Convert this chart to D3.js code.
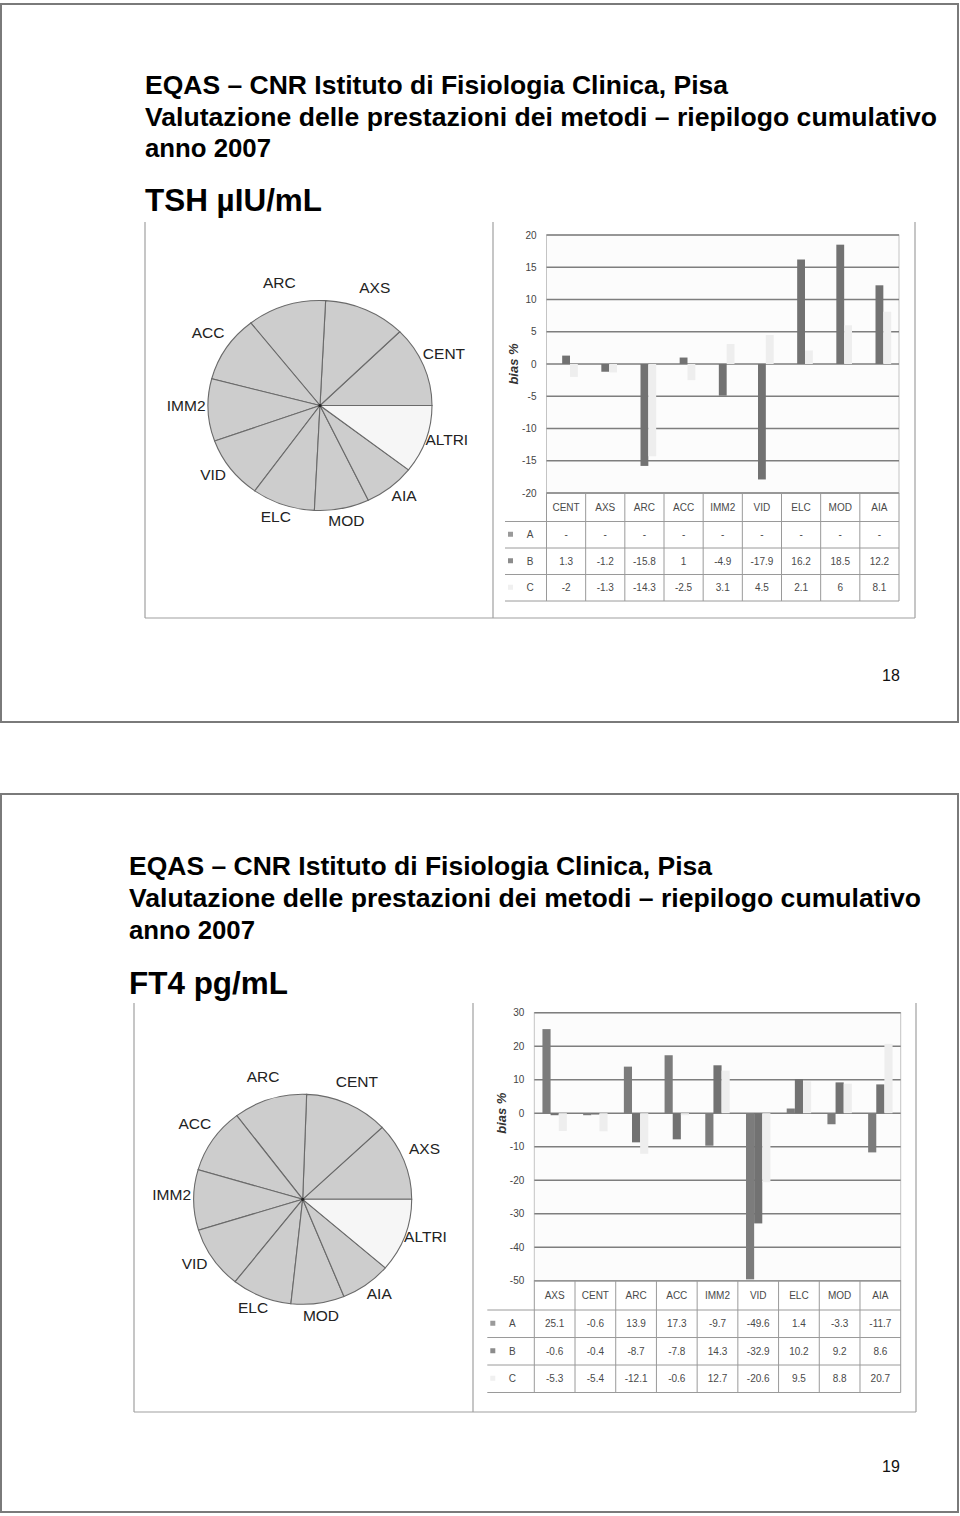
<!DOCTYPE html>
<html>
<head>
<meta charset="utf-8">
<script src="https://cdn.jsdelivr.net/npm/d3@7"></script>
<style>
  html, body { margin: 0; padding: 0; background: #fff; }
  svg { display: block; }
  text { font-family: "Liberation Sans", Arial, sans-serif; }
</style>
</head>
<body>
<svg id="page" width="960" height="1516"></svg>
<script>
// ---------------- DATA ----------------
const titleLine1 = "EQAS \u2013 CNR Istituto di Fisiologia Clinica, Pisa";
const titleLine2 = "Valutazione delle prestazioni dei metodi \u2013 riepilogo cumulativo";
const titleLine3 = "anno 2007";
const seriesNames = ["A", "B", "C"];

// Slide 18: TSH
const tshHeading = "TSH \u00b5IU/mL";
const tshPageNo = "18";
const tshPieLabels = ["CENT", "AXS", "ARC", "ACC", "IMM2", "VID", "ELC", "MOD", "AIA", "ALTRI"];
const tshPieShares = [12.4, 11.8, 11.4, 10.3, 9.6, 9.6, 9.1, 7.9, 7.4, 10.5];
const tshCats = ["CENT", "AXS", "ARC", "ACC", "IMM2", "VID", "ELC", "MOD", "AIA"];
const tshA = [null, null, null, null, null, null, null, null, null];
const tshB = [1.3, -1.2, -15.8, 1, -4.9, -17.9, 16.2, 18.5, 12.2];
const tshC = [-2, -1.3, -14.3, -2.5, 3.1, 4.5, 2.1, 6, 8.1];
const tshYDomain = [-20, 20];
const tshYTicks = [-20, -15, -10, -5, 0, 5, 10, 15, 20];

// Slide 19: FT4
const ft4Heading = "FT4 pg/mL";
const ft4PageNo = "19";
const ft4PieLabels = ["AXS", "CENT", "ARC", "ACC", "IMM2", "VID", "ELC", "MOD", "AIA", "ALTRI"];
const ft4PieShares = [12.0, 12.4, 10.9, 10.1, 9.3, 9.6, 8.9, 7.9, 7.5, 11.3];
const ft4Cats = ["AXS", "CENT", "ARC", "ACC", "IMM2", "VID", "ELC", "MOD", "AIA"];
const ft4A = [25.1, -0.6, 13.9, 17.3, -9.7, -49.6, 1.4, -3.3, -11.7];
const ft4B = [-0.6, -0.4, -8.7, -7.8, 14.3, -32.9, 10.2, 9.2, 8.6];
const ft4C = [-5.3, -5.4, -12.1, -0.6, 12.7, -20.6, 9.5, 8.8, 20.7];
const ft4YDomain = [-50, 30];
const ft4YTicks = [-50, -40, -30, -20, -10, 0, 10, 20, 30];

// ---------------- STYLE ----------------
const seriesColors = { A: "#7c7c7c", B: "#727272", C: "#eeeeee" };
const legendColors = { A: "#9a9a9a", B: "#8c8c8c", C: "#f0f0f0" };

const svg = d3.select("#page");

function fmt(v) {
  if (v === null || v === undefined) return "-";
  return String(v);
}

function drawSlide(cfg) {
  const g = svg.append("g");
  g.append("rect")
    .attr("x", cfg.frame.x).attr("y", cfg.frame.y)
    .attr("width", cfg.frame.w).attr("height", cfg.frame.h)
    .attr("fill", "#fff").attr("stroke", "#7a7a7a").attr("stroke-width", 2);

  const t = cfg.title;
  const lines = [
    { s: titleLine1, y: t.y1, len: 583, size: 26 },
    { s: titleLine2, y: t.y2, len: 792, size: 26 },
    { s: titleLine3, y: t.y3, len: 126, size: 26 },
    { s: cfg.heading, y: t.y4, len: cfg.headingLen, size: 32 }
  ];
  lines.forEach(l => {
    g.append("text")
      .attr("x", t.x).attr("y", l.y)
      .attr("font-size", l.size).attr("font-weight", "bold")
      .attr("fill", "#000")
      .attr("textLength", l.len).attr("lengthAdjust", "spacingAndGlyphs")
      .text(l.s);
  });

  g.append("text")
    .attr("x", cfg.pageNo.x).attr("y", cfg.pageNo.y)
    .attr("text-anchor", "middle").attr("dominant-baseline", "central")
    .attr("font-size", 16).attr("fill", "#111")
    .text(cfg.pageNoText);

  const f = cfg.panel;
  const fr = g.append("g").attr("stroke", "#a0a0a0").attr("stroke-width", 1.2).attr("fill", "none");
  fr.append("line").attr("x1", f.left).attr("x2", f.left).attr("y1", f.top).attr("y2", f.bottom);
  fr.append("line").attr("x1", f.mid).attr("x2", f.mid).attr("y1", f.top).attr("y2", f.bottom);
  fr.append("line").attr("x1", f.right).attr("x2", f.right).attr("y1", f.top).attr("y2", f.bottom);
  fr.append("line").attr("x1", f.left).attr("x2", f.right).attr("y1", f.bottom).attr("y2", f.bottom);

  drawPie(g, cfg.pie);
  drawBars(g, cfg.bars);
}

function drawPie(parent, p) {
  const pie = d3.pie().sort(null).value(d => d.v)
    .startAngle(Math.PI / 2).endAngle(Math.PI / 2 - 2 * Math.PI);
  const data = p.labels.map((l, i) => ({ l, v: p.shares[i] }));
  const arcs = pie(data);
  const arc = d3.arc().innerRadius(0).outerRadius(p.ry);
  const g = parent.append("g")
    .attr("transform", `translate(${p.cx},${p.cy}) scale(${p.rx / p.ry},1)`);
  g.selectAll("path").data(arcs).enter().append("path")
    .attr("d", arc)
    .attr("fill", d => d.data.l === "ALTRI" ? "#f6f6f6" : "#cdcdcd")
    .attr("stroke", "#6a6a6a").attr("stroke-width", 1.1)
    .attr("vector-effect", "non-scaling-stroke");
  parent.append("circle").attr("cx", p.cx).attr("cy", p.cy).attr("r", 1.6).attr("fill", "#222");

  parent.append("g").selectAll("text").data(arcs).enter().append("text")
    .each(function (d) {
      const mid = (d.startAngle + d.endAngle) / 2;
      const sx = Math.sin(mid), sy = -Math.cos(mid);
      d3.select(this)
        .attr("x", p.cx + (p.rx + 22) * sx)
        .attr("y", p.cy + (p.ry + 18) * sy - 5.5);
    })
    .attr("text-anchor", "middle").attr("dominant-baseline", "central")
    .attr("font-size", 15.5).attr("fill", "#222")
    .text(d => d.data.l);
}

function drawBars(parent, b) {
  const g = parent.append("g");
  const x = d3.scaleBand().domain(b.cats).range([b.left, b.right]).padding(0);
  const xs = d3.scaleBand().domain(seriesNames).range([0, x.bandwidth()]).paddingInner(0).paddingOuter(1);
  const y = d3.scaleLinear().domain(b.domain).range([b.bottom, b.top]);

  g.append("rect").attr("x", b.left).attr("y", b.top)
    .attr("width", b.right - b.left).attr("height", b.bottom - b.top)
    .attr("fill", "#fcfcfc").attr("stroke", "#c4c4c4").attr("stroke-width", 1);

  g.append("g").selectAll("line").data(b.ticks).enter().append("line")
    .attr("x1", b.left).attr("x2", b.right)
    .attr("y1", d => y(d)).attr("y2", d => y(d))
    .attr("stroke", "#7e7e7e").attr("stroke-width", 1.4);

  const axis = d3.axisLeft(y).tickValues(b.ticks).tickSize(0).tickPadding(0).tickFormat(d => String(d));
  const ax = g.append("g").attr("transform", `translate(${b.left - 10},0)`).call(axis);
  ax.select(".domain").remove();
  ax.selectAll("text").attr("font-size", 10).attr("fill", "#444")
    .attr("font-family", "'Liberation Sans', Arial, sans-serif");

  g.append("text")
    .attr("transform", `translate(${b.left - 33},${y(0)}) rotate(-90)`)
    .attr("text-anchor", "middle").attr("dominant-baseline", "central")
    .attr("font-size", 13).attr("font-weight", "bold").attr("font-style", "italic")
    .attr("fill", "#333").text("bias %");

  const series = { A: b.A, B: b.B, C: b.C };
  seriesNames.forEach(s => {
    g.append("g").selectAll("rect")
      .data(b.cats.map((c, i) => ({ c, v: series[s][i] })).filter(d => d.v !== null))
      .enter().append("rect")
      .attr("x", d => x(d.c) + xs(s))
      .attr("width", xs.bandwidth())
      .attr("y", d => Math.min(y(0), y(d.v)))
      .attr("height", d => Math.abs(y(d.v) - y(0)))
      .attr("fill", seriesColors[s]);
  });

  const hh = b.headerH, rh = b.rowH;
  const tTop = b.bottom;
  const tg = g.append("g");
  const ln = (x1, y1, x2, y2) => tg.append("line").attr("x1", x1).attr("y1", y1).attr("x2", x2).attr("y2", y2)
    .attr("stroke", "#9a9a9a").attr("stroke-width", 1);
  b.cats.forEach(c => ln(x(c), tTop, x(c), tTop + hh + 3 * rh));
  ln(b.right, tTop, b.right, tTop + hh + 3 * rh);
  ln(b.left, tTop, b.right, tTop);
  for (let k = 0; k <= 3; k++) ln(b.labelLeft, tTop + hh + k * rh, b.right, tTop + hh + k * rh);

  tg.selectAll("text.hdr").data(b.cats).enter().append("text")
    .attr("x", c => x(c) + x.bandwidth() / 2).attr("y", tTop + hh / 2)
    .attr("text-anchor", "middle").attr("dominant-baseline", "central")
    .attr("font-size", 10).attr("fill", "#4a4a4a").text(c => c);

  seriesNames.forEach((s, k) => {
    const cy = tTop + hh + k * rh + rh / 2;
    tg.append("rect").attr("x", b.labelLeft + 3).attr("y", cy - 3).attr("width", 5).attr("height", 5)
      .attr("fill", legendColors[s]);
    tg.append("text").attr("x", b.labelLeft + 25).attr("y", cy)
      .attr("text-anchor", "middle").attr("dominant-baseline", "central")
      .attr("font-size", 10).attr("fill", "#4a4a4a").text(s);
    tg.append("g").selectAll("text").data(b.cats.map((c, i) => ({ c, v: series[s][i] })))
      .enter().append("text")
      .attr("x", d => x(d.c) + x.bandwidth() / 2).attr("y", cy)
      .attr("text-anchor", "middle").attr("dominant-baseline", "central")
      .attr("font-size", 10).attr("fill", "#4a4a4a").text(d => fmt(d.v));
  });
}

drawSlide({
  frame: { x: 1, y: 4, w: 957, h: 718 },
  title: { x: 145, y1: 94, y2: 126, y3: 157, y4: 211 },
  heading: tshHeading, headingLen: 177,
  pageNo: { x: 891, y: 675 }, pageNoText: tshPageNo,
  panel: { left: 145, mid: 493, right: 915, top: 222, bottom: 618 },
  pie: { labels: tshPieLabels, shares: tshPieShares, cx: 320, cy: 405.5, rx: 112, ry: 105 },
  bars: {
    cats: tshCats, A: tshA, B: tshB, C: tshC, domain: tshYDomain, ticks: tshYTicks,
    left: 546.5, right: 899, top: 235, bottom: 493,
    headerH: 28.5, rowH: 26.5, labelLeft: 505
  }
});

drawSlide({
  frame: { x: 1, y: 794, w: 957, h: 718 },
  title: { x: 129, y1: 875, y2: 907, y3: 939, y4: 994 },
  heading: ft4Heading, headingLen: 159,
  pageNo: { x: 891, y: 1466 }, pageNoText: ft4PageNo,
  panel: { left: 134, mid: 473, right: 916, top: 1003, bottom: 1412 },
  pie: { labels: ft4PieLabels, shares: ft4PieShares, cx: 302.7, cy: 1199.3, rx: 109, ry: 105 },
  bars: {
    cats: ft4Cats, A: ft4A, B: ft4B, C: ft4C, domain: ft4YDomain, ticks: ft4YTicks,
    left: 534.3, right: 900.7, top: 1012.7, bottom: 1280.7,
    headerH: 29.3, rowH: 27.5, labelLeft: 487.3
  }
});
</script>
</body>
</html>
